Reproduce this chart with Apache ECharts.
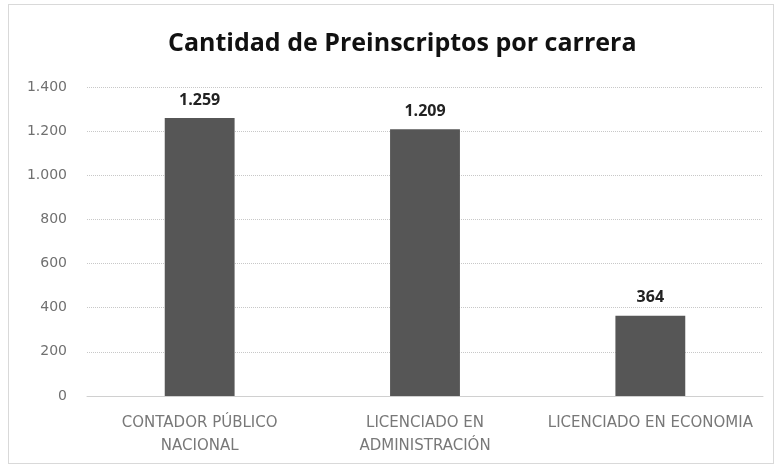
<!DOCTYPE html>
<html lang="es">
<head>
    <meta charset="UTF-8">
    <title>Preinscriptos</title>
    <script src="https://cdn.jsdelivr.net/npm/echarts@6/dist/echarts.min.js"></script>
    <style>
        html, body { margin: 0; padding: 0; background: #fff; }
        #chart {
            width: 766px; height: 460px;
            margin: 4px 0 0 8px;
            box-sizing: border-box;
            border: 1px solid #d9d9d9;
        }
    </style>
</head>
<body>
<div id="chart"></div>
<script>
    // datos
    var carreras = ['CONTADOR PÚBLICO\nNACIONAL', 'LICENCIADO EN\nADMINISTRACIÓN', 'LICENCIADO EN ECONOMIA'];
    var preinscriptos = [1259, 1209, 364];
    var ticks_y = [0, 200, 400, 600, 800, 1000, 1200, 1400];

    function miles(v) {
        return String(v).replace(/\B(?=(\d{3})+(?!\d))/g, '.');
    }

    var myChart = echarts.init(document.getElementById('chart'));
    var option = {
        animation: false,
        title: {
            text: 'Cantidad de Preinscriptos por carrera',
            left: 159,
            top: 26,
            padding: 0,
            textStyle: { fontFamily: 'Open Sans', fontSize: 25, fontWeight: 'bold', color: '#111' }
        },
        grid: { left: 78, right: 10, top: 82, bottom: 67 },
        xAxis: {
            type: 'category',
            data: carreras,
            axisLine: { lineStyle: { color: '#d0d0d0' } },
            axisTick: { show: false },
            axisLabel: {
                interval: 0,
                color: '#787878',
                fontFamily: 'DejaVu Sans',
                fontSize: 15,
                lineHeight: 23,
                margin: 16
            }
        },
        yAxis: {
            type: 'value',
            min: ticks_y[0],
            max: ticks_y[ticks_y.length - 1],
            interval: 200,
            axisLine: { show: false },
            axisTick: { show: false },
            splitLine: { lineStyle: { color: '#c8c8c8', type: 'dotted' } },
            axisLabel: {
                color: '#707070',
                fontFamily: 'DejaVu Sans',
                fontSize: 14,
                margin: 20,
                formatter: miles
            }
        },
        series: [{
            type: 'bar',
            data: preinscriptos,
            barWidth: '31%',
            itemStyle: { color: '#565656' },
            label: {
                show: true,
                position: 'top',
                distance: 10,
                color: '#222',
                fontFamily: 'Open Sans',
                fontSize: 16,
                fontWeight: 'bold',
                formatter: function (p) { return miles(p.value); }
            }
        }]
    };
    myChart.setOption(option);
</script>
</body>
</html>
